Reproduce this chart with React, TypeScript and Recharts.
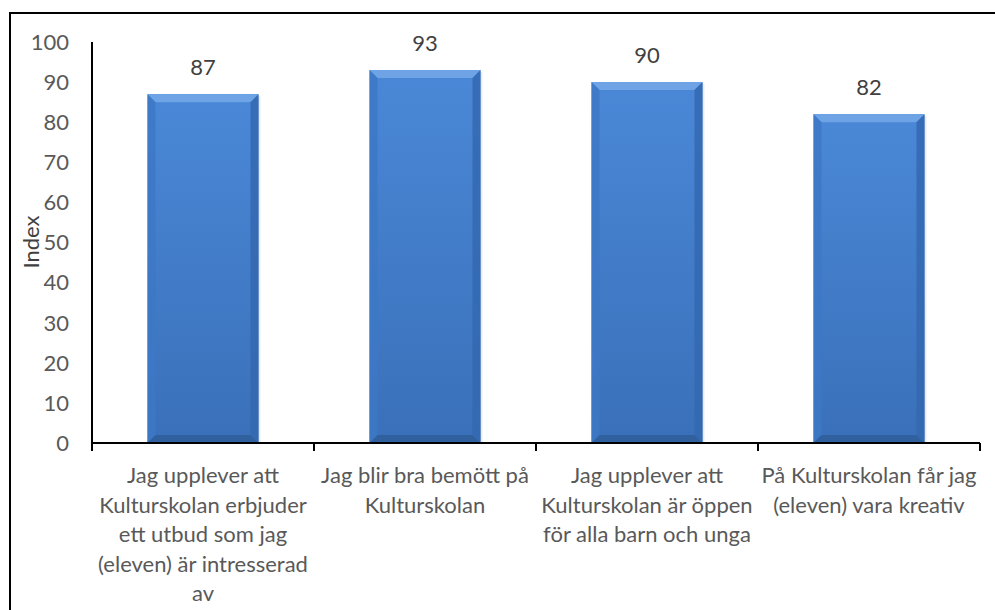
import { BarChart, Bar, XAxis, YAxis, LabelList } from "recharts";

const CATEGORIES = [
  "Jag upplever att\nKulturskolan erbjuder\nett utbud som jag\n(eleven) är intresserad\nav",
  "Jag blir bra bemött på\nKulturskolan",
  "Jag upplever att\nKulturskolan är öppen\nför alla barn och unga",
  "På Kulturskolan får jag\n(eleven) vara kreativ",
];
const VALUES = [87, 93, 90, 82];
const Y_TICKS = [0, 10, 20, 30, 40, 50, 60, 70, 80, 90, 100];

const data = CATEGORIES.map((name, i) => ({ name, value: VALUES[i] }));

const FONT = "Lato, 'Noto Sans', sans-serif";
const FS = 22;
const W = 995;
const H = 610;
const MARGIN = { top: 42, right: 15, left: 32, bottom: 137 };
const HALF_BAND = (W - MARGIN.left - 60 - MARGIN.right) / CATEGORIES.length / 2;

function BevelBar(props: any) {
  const { x, y, width: w, height: h, index } = props;
  if (!h || h <= 0) return null;
  const b = 8;
  const id = "barGrad" + index;
  return (
    <g>
      <defs>
        <linearGradient id={id} x1="0" y1="0" x2="0" y2="1">
          <stop offset="0%" stopColor="#4a88d7" />
          <stop offset="100%" stopColor="#3a70b9" />
        </linearGradient>
      </defs>
      <rect x={x + 2} y={y + 2} width={w} height={h - 2} fill="rgba(0,0,0,0.08)" />
      <rect x={x} y={y} width={w} height={h} fill={`url(#${id})`} />
      <polygon
        points={`${x},${y} ${x + w},${y} ${x + w - b},${y + b} ${x + b},${y + b}`}
        fill="#6ea4e6"
      />
      <polygon
        points={`${x},${y} ${x + b},${y + b} ${x + b},${y + h - b} ${x},${y + h}`}
        fill="#3d78c6"
        opacity={0.85}
      />
      <polygon
        points={`${x + w},${y} ${x + w - b},${y + b} ${x + w - b},${y + h - b} ${x + w},${y + h}`}
        fill="#3469b0"
        opacity={0.85}
      />
      <polygon
        points={`${x},${y + h} ${x + b},${y + h - b} ${x + w - b},${y + h - b} ${x + w},${y + h}`}
        fill="#31609f"
      />
    </g>
  );
}

function CategoryTick(props: any) {
  const { x, y, payload, index } = props;
  const lines = String(payload.value).split("\n");
  const last = index === CATEGORIES.length - 1;
  return (
    <g>
      <line x1={x - HALF_BAND} y1={y} x2={x - HALF_BAND} y2={y + 8} stroke="#000" strokeWidth={2} />
      {last && (
        <line x1={x + HALF_BAND} y1={y} x2={x + HALF_BAND} y2={y + 8} stroke="#000" strokeWidth={2} />
      )}
      <text x={x} y={y + 40} textAnchor="middle" fill="#595959" fontSize={FS} fontFamily={FONT}>
        {lines.map((line, i) => (
          <tspan key={i} x={x} dy={i === 0 ? 0 : 29.5}>
            {line}
          </tspan>
        ))}
      </text>
    </g>
  );
}

export default function App() {
  return (
    <div style={{ position: "absolute", left: 0, top: 0, width: W, height: H, overflow: "hidden", background: "#fff" }}>
      <div
        style={{
          position: "absolute",
          left: 9,
          top: 12,
          width: 1200,
          height: 1200,
          border: "2px solid #000",
        }}
      />
      <div style={{ position: "absolute", left: 0, top: 0 }}>
        <BarChart width={W} height={H} data={data} margin={MARGIN} barCategoryGap="25%">
          <XAxis
            dataKey="name"
            interval={0}
            tickLine={false}
            tickSize={0}
            tickMargin={0}
            axisLine={{ stroke: "#000", strokeWidth: 2 }}
            tick={<CategoryTick />}
          />
          <YAxis
            width={60}
            domain={[0, 100]}
            ticks={Y_TICKS}
            interval={0}
            tickLine={false}
            tickSize={0}
            tickMargin={23}
            axisLine={{ stroke: "#000", strokeWidth: 2 }}
            tick={{ fill: "#595959", fontSize: FS, fontFamily: FONT }}
            label={{
              content: () => (
                <text
                  x={30}
                  y={242}
                  transform="rotate(-90 30 242)"
                  textAnchor="middle"
                  dominantBaseline="central"
                  fill="#404040"
                  fontSize={FS}
                  fontFamily={FONT}
                >
                  Index
                </text>
              ),
            }}
          />
          <Bar dataKey="value" shape={<BevelBar />} isAnimationActive={false}>
            <LabelList
              dataKey="value"
              position="top"
              offset={19}
              fill="#404040"
              fontSize={FS}
              fontFamily={FONT}
            />
          </Bar>
        </BarChart>
      </div>
    </div>
  );
}
